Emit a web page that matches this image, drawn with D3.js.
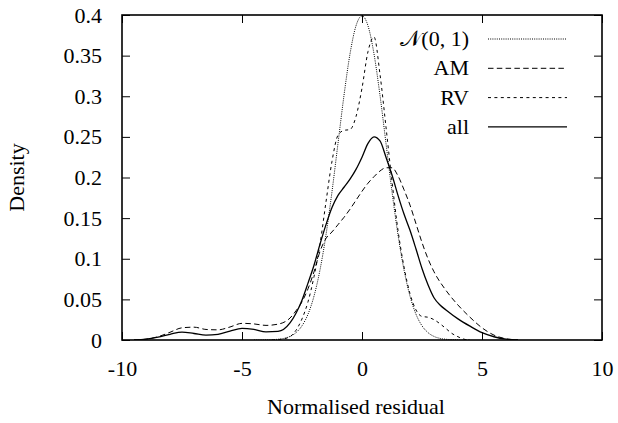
<!DOCTYPE html>
<html>
<head>
<meta charset="utf-8">
<script src="https://cdn.jsdelivr.net/npm/d3@7.9.0/dist/d3.min.js"></script>
<style>
  body { margin: 0; background: #fff; }
  svg { display: block; }
</style>
</head>
<body>
<svg id="chart" width="618" height="423"></svg>
<script>
// residual (x), density (y) pairs
const normal01 = [
  [-4.5, 0], [-4, 0.0001], [-3.75, 0.0004], [-3.5, 0.0009], [-3.25, 0.002], [-3, 0.0044],
  [-2.75, 0.0091], [-2.5, 0.0175], [-2.25, 0.0317], [-2, 0.054], [-1.75, 0.0863],
  [-1.5, 0.1295], [-1.25, 0.1826], [-1, 0.242], [-0.75, 0.3011], [-0.5, 0.3521],
  [-0.25, 0.3867], [0, 0.3989], [0.25, 0.3867], [0.5, 0.3521], [0.75, 0.3011],
  [1, 0.242], [1.25, 0.1826], [1.5, 0.1295], [1.75, 0.0863], [2, 0.054],
  [2.25, 0.0317], [2.5, 0.0175], [2.75, 0.0091], [3, 0.0044], [3.25, 0.002],
  [3.5, 0.0009], [3.75, 0.0004], [4, 0.0001], [4.5, 0]
];

const am = [
  [-9.5, 0], [-9, 0.001], [-8.5, 0.004], [-8, 0.0095], [-7.5, 0.015], [-7, 0.0158],
  [-6.5, 0.013], [-6, 0.0125], [-5.5, 0.016], [-5, 0.0205], [-4.5, 0.0198], [-4, 0.018],
  [-3.5, 0.0195], [-3, 0.027], [-2.75, 0.036], [-2.5, 0.047], [-2.25, 0.063], [-2, 0.084],
  [-1.75, 0.109], [-1.5, 0.125], [-1.25, 0.133], [-1, 0.142], [-0.75, 0.151], [-0.5, 0.161],
  [-0.25, 0.172], [0, 0.183], [0.25, 0.193], [0.5, 0.201], [0.75, 0.208], [1, 0.212],
  [1.25, 0.212], [1.5, 0.202], [1.75, 0.185], [2, 0.166], [2.25, 0.143], [2.5, 0.12],
  [2.75, 0.1], [3, 0.084], [3.5, 0.061], [4, 0.043], [4.5, 0.028], [5, 0.015],
  [5.5, 0.006], [6, 0.0015], [6.5, 0]
];

const rv = [
  [-3.75, 0], [-3.5, 0.0005], [-3.25, 0.0015], [-3, 0.004], [-2.75, 0.012], [-2.5, 0.026],
  [-2.25, 0.047], [-2, 0.078], [-1.75, 0.118], [-1.5, 0.17], [-1.25, 0.22], [-1, 0.252],
  [-0.75, 0.258], [-0.5, 0.259], [-0.25, 0.275], [0, 0.31], [0.25, 0.355], [0.5, 0.373],
  [0.75, 0.327], [1, 0.262], [1.25, 0.195], [1.5, 0.135], [1.75, 0.09], [2, 0.057],
  [2.25, 0.037], [2.5, 0.029], [2.75, 0.028], [3, 0.025], [3.25, 0.02], [3.5, 0.014],
  [3.75, 0.008], [4, 0.004], [4.25, 0.001], [4.5, 0]
];

const all = [
  [-9.5, 0], [-9, 0.001], [-8.5, 0.0035], [-8, 0.007], [-7.5, 0.0098], [-7, 0.008],
  [-6.5, 0.006], [-6, 0.007], [-5.5, 0.011], [-5, 0.0143], [-4.5, 0.013], [-4, 0.01],
  [-3.5, 0.0105], [-3, 0.021], [-2.75, 0.033], [-2.5, 0.049], [-2.25, 0.07], [-2, 0.092],
  [-1.75, 0.118], [-1.5, 0.142], [-1.25, 0.163], [-1, 0.178], [-0.75, 0.188], [-0.5, 0.198],
  [-0.25, 0.21], [0, 0.225], [0.25, 0.242], [0.5, 0.25], [0.75, 0.245], [1, 0.225],
  [1.25, 0.203], [1.5, 0.178], [1.75, 0.155], [2, 0.135], [2.25, 0.112], [2.5, 0.088],
  [2.75, 0.068], [3, 0.052], [3.25, 0.043], [3.5, 0.037], [4, 0.026], [4.5, 0.017],
  [5, 0.009], [5.5, 0.004], [6, 0.001], [6.5, 0]
];

const seriesNames = ['\u{1D4A9}(0, 1)', 'AM', 'RV', 'all'];
const xTicks = [-10, -5, 0, 5, 10];
const xTickLabels = ['-10', '-5', '0', '5', '10'];
const yTicks = [0, 0.05, 0.1, 0.15, 0.2, 0.25, 0.3, 0.35, 0.4];
const yTickLabels = ['0', '0.05', '0.1', '0.15', '0.2', '0.25', '0.3', '0.35', '0.4'];

const FONT = 'Liberation Serif';

const margin = { top: 15, right: 16, bottom: 83, left: 122 };
const width = 618 - margin.left - margin.right;
const height = 423 - margin.top - margin.bottom;

const svg = d3.select('#chart');
const g = svg.append('g').attr('transform', `translate(${margin.left},${margin.top})`);

const x = d3.scaleLinear().domain([-10, 10]).range([0, width]);
const y = d3.scaleLinear().domain([0, 0.4]).range([height, 0]);

const styles = [
  { dash: '1,1.2', w: 1 },
  { dash: '5.5,3.3', w: 1 },
  { dash: '3,3.4', w: 1 },
  { dash: null, w: 1.3 }
];
const datasets = [normal01, am, rv, all];

// axes: inward ticks, labels only on bottom/left
g.append('g')
  .attr('transform', `translate(0,${height})`)
  .call(d3.axisBottom(x).tickValues(xTicks).tickSizeInner(-8).tickSizeOuter(0)
    .tickPadding(20).tickFormat((d, i) => xTickLabels[i]));
g.append('g')
  .call(d3.axisLeft(y).tickValues(yTicks).tickSizeInner(-8).tickSizeOuter(0)
    .tickPadding(20).tickFormat((d, i) => yTickLabels[i]));
g.append('g')
  .call(d3.axisTop(x).tickValues(xTicks).tickSizeInner(-8).tickSizeOuter(0).tickFormat(''));
g.append('g')
  .attr('transform', `translate(${width},0)`)
  .call(d3.axisRight(y).tickValues(yTicks).tickSizeInner(-8).tickSizeOuter(0).tickFormat(''));

g.selectAll('.domain').remove();
g.selectAll('g').attr('font-family', FONT).attr('font-size', 22);
g.selectAll('.tick text').attr('font-family', FONT).attr('font-size', 22).attr('fill', '#000');
g.selectAll('.tick line').attr('stroke', '#000').attr('stroke-width', 1);

g.append('defs').append('clipPath').attr('id', 'clip')
  .append('rect').attr('width', width).attr('height', height);

const line = d3.line()
  .x((d) => x(d[0]))
  .y((d) => y(d[1]))
  .curve(d3.curveMonotoneX);

datasets.forEach((data, i) => {
  g.append('path')
    .attr('clip-path', 'url(#clip)')
    .attr('d', line(data))
    .attr('fill', 'none')
    .attr('stroke', '#000')
    .attr('stroke-width', styles[i].w)
    .attr('stroke-dasharray', styles[i].dash);
});

// frame
g.append('rect')
  .attr('width', width)
  .attr('height', height)
  .attr('fill', 'none')
  .attr('stroke', '#000')
  .attr('stroke-width', 1.6);

// legend
const legend = g.append('g');
seriesNames.forEach((name, i) => {
  const ly = 24 + i * 29.3;
  legend.append('text')
    .attr('x', 347)
    .attr('y', ly + 7)
    .attr('text-anchor', 'end')
    .attr('font-size', 22)
    .attr('font-family', FONT)
    .text(name);
  legend.append('line')
    .attr('x1', 366).attr('x2', 445)
    .attr('y1', ly).attr('y2', ly)
    .attr('stroke', '#000')
    .attr('stroke-width', styles[i].w)
    .attr('stroke-dasharray', styles[i].dash);
});

svg.append('text')
  .attr('transform', `translate(24,${margin.top + height / 2}) rotate(-90)`)
  .attr('text-anchor', 'middle')
  .attr('font-size', 22)
  .attr('font-family', FONT)
  .text('Density');

svg.append('text')
  .attr('x', 356)
  .attr('y', 414)
  .attr('text-anchor', 'middle')
  .attr('font-size', 22)
  .attr('font-family', FONT)
  .text('Normalised residual');
</script>
</body>
</html>
